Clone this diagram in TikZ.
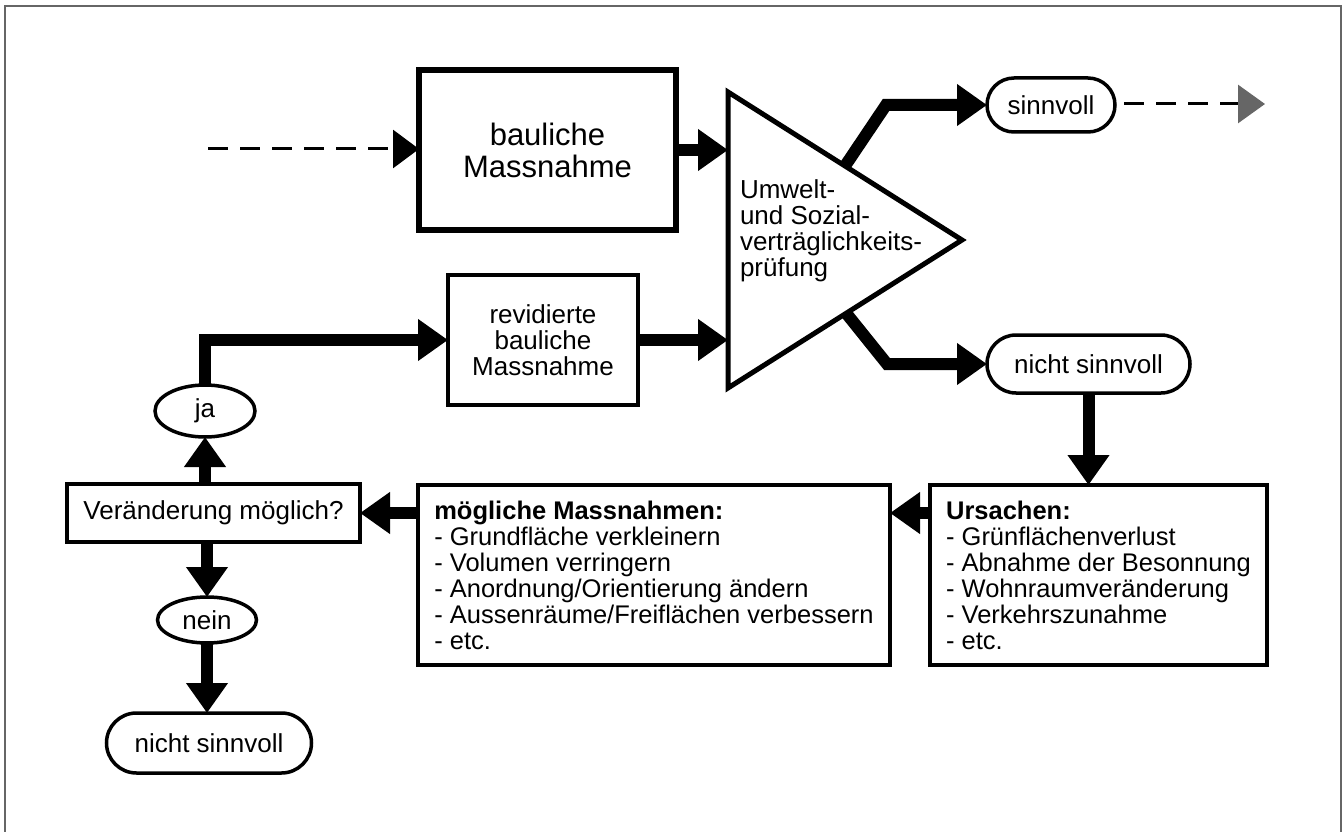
\documentclass[tikz,border=0pt]{standalone}
\usepackage{fontspec}
\setmainfont{Liberation Sans}
\usetikzlibrary{arrows.meta,shapes.geometric}
\begin{document}
\begin{tikzpicture}[x=1pt,y=-1pt,
  every node/.style={inner sep=0pt, outer sep=0pt},
  txt/.style={font=\fontsize{26}{26}\selectfont},
  box/.style={draw, line width=4pt, rectangle, txt},
  pill/.style={draw, line width=3.5pt, rectangle, txt},
  ell/.style={draw, line width=3.5pt, ellipse, txt},
  listtext/.style={align=left, font=\fontsize{25.5}{26}\selectfont},
  arr/.style={line width=12pt, line join=miter, -{Triangle[width=40pt,length=30pt]}},
  darr/.style={line width=3pt, dash pattern=on 20pt off 12pt, -{Triangle[width=38pt,length=26pt]}},
]
\useasboundingbox (0,0) rectangle (1342,832);
\draw[black!60, line width=2pt] (5,832) -- (5,6) -- (1341,6) -- (1341,832);

% boxes
\node[box, line width=6pt, minimum width=257pt, minimum height=160pt, align=center,
      font=\fontsize{31}{32}\selectfont] (b1) at (547.5,150) {bauliche\\Massnahme};
\node[box, minimum width=190pt, minimum height=130pt, align=center,
      font=\fontsize{26}{26}\selectfont] (rev) at (543,340) {revidierte\\bauliche\\Massnahme};

% triangle
\coordinate (tA) at (728,92);
\coordinate (tB) at (728,388);
\coordinate (tC) at (962,240);
\draw[line width=5pt, line join=miter] (tA) -- (tC) -- (tB) -- cycle;
\node[txt, anchor=west, align=left, font=\fontsize{26}{26}\selectfont] (tt) at (740,231)
  {Umwelt-\\und Sozial-\\verträglichkeits-\\prüfung};

% pills
\node[pill, minimum width=128pt, minimum height=54pt, rounded corners=27pt] (sv) at (1051,105) {sinnvoll};
\node[pill, minimum width=203pt, minimum height=58pt, rounded corners=29pt] (nsv) at (1088.5,364) {nicht sinnvoll};
\node[pill, minimum width=205pt, minimum height=60pt, rounded corners=30pt] (nsv2) at (209,743) {nicht sinnvoll};

% ellipses
\node[ell, minimum width=100pt, minimum height=52pt] (ja) at (205,411) {ja};
\node[ell, minimum width=99pt, minimum height=46pt] (nein) at (207,620) {nein};

% decision box
\node[box, minimum width=293pt, minimum height=58pt] (ver) at (213.5,513) {Veränderung möglich?};

% list boxes
\node[box, minimum width=472pt, minimum height=180pt, listtext] (mog) at (654,575)
  {\textbf{mögliche Massnahmen:}\\- Grundfläche verkleinern\\- Volumen verringern\\- Anordnung/Orientierung ändern\\- Aussenräume/Freiflächen verbessern\\- etc.};
\node[box, minimum width=337pt, minimum height=180pt, listtext] (urs) at (1098.5,575)
  {\textbf{Ursachen:}\\- Grünflächenverlust\\- Abnahme der Besonnung\\- Wohnraumveränderung\\- Verkehrszunahme\\- etc.};

% connectors
\coordinate (dl) at (208,149);
\draw[darr] (dl) -- (dl -| b1.west);
\draw[arr] (b1.east) -- (b1.east -| tA);
\draw[arr] (rev.east) -- (rev.east -| tA);
\draw[arr] (ja.north) -- (ja.north |- rev.west) -- (rev.west);
\coordinate (tu) at (845,166);
\coordinate (tub) at (886,105);
\draw[arr] (tu) -- (tub) -- (sv.west);
\coordinate (tl) at (846,313);
\coordinate (tlb) at (887,364);
\draw[arr] (tl) -- (tlb) -- (nsv.west);
\coordinate (ds) at (1124,104);
\coordinate (dr) at (1265,104);
\draw[line width=3pt, dash pattern=on 20pt off 12pt, -{Triangle[width=38pt,length=27pt,fill=black!60,color=black!60]}] (ds) -- (dr);
\draw[arr] (nsv.south) -- (nsv.south |- urs.north);
\draw[arr] (urs.west |- ver.east) -- (mog.east |- ver.east);
\draw[arr] (mog.west |- ver.east) -- (ver.east);
\draw[arr] (ver.north -| ja) -- (ja.south);
\draw[arr] (ver.south -| nein) -- (nein.north);
\draw[arr] (nein.south) -- (nein.south |- nsv2.north);
\end{tikzpicture}
\end{document}
